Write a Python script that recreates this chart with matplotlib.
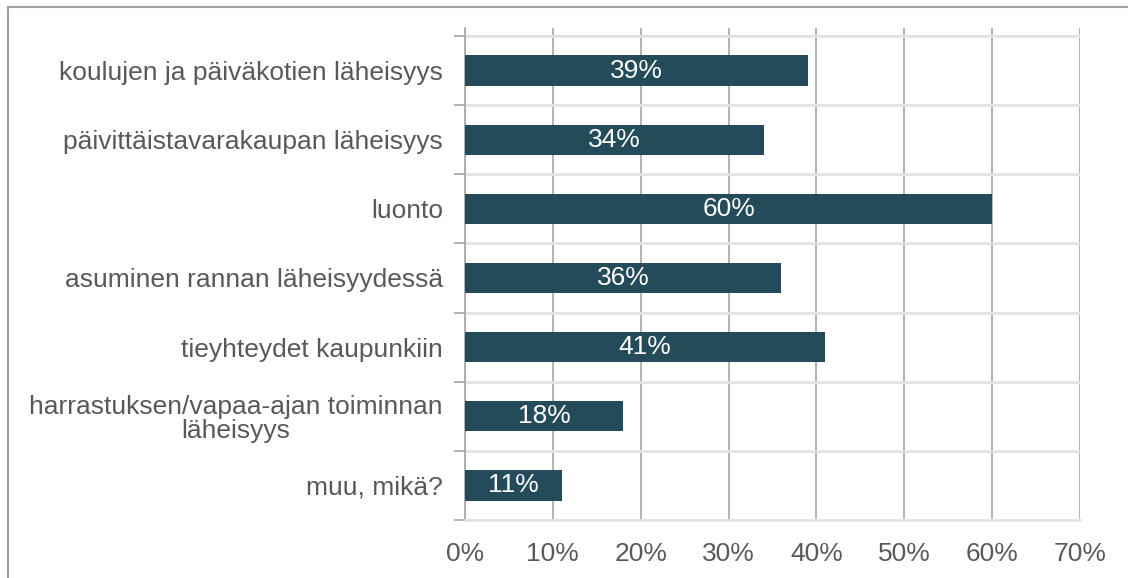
import numpy as np
import matplotlib.pyplot as plt
from matplotlib.lines import Line2D
from matplotlib.ticker import FixedLocator

categories = [
    "koulujen ja päiväkotien läheisyys",
    "päivittäistavarakaupan läheisyys",
    "luonto",
    "asuminen rannan läheisyydessä",
    "tieyhteydet kaupunkiin",
    "harrastuksen/vapaa-ajan toiminnan\nläheisyys",
    "muu, mikä?",
]
values = [39, 34, 60, 36, 41, 18, 11]
xticks = [0, 10, 20, 30, 40, 50, 60, 70]

plt.rcParams['font.family'] = ['Liberation Sans', 'DejaVu Sans']
text_gray = '#595959'
bar_color = '#234B5A'
grid_dark = '#a6a6a6'
grid_light = '#e3e3e3'

fig = plt.figure(figsize=(11.28, 5.78), dpi=100)
# plot area spans y=28..520 px; categories occupy 36..520
ax = fig.add_axes([465/1128, 58/578, 615/1128, 492/578])

n = len(categories)
y = np.arange(n)
bars = ax.barh(y, values, height=0.44, color=bar_color, zorder=3)
for b, v in zip(bars, values):
    ax.text(v / 2, b.get_y() + b.get_height() / 2, f"{v}%", color='white',
            ha='center', va='center', fontsize=19, zorder=4)

step_px = 484 / n
ax.set_xlim(0, 70)
ax.set_ylim(n - 0.5, -0.5 - 8 / step_px)
ax.set_xticks(xticks)
ax.set_xticklabels([f"{t}%" for t in xticks])
ax.set_yticks(y)
ax.set_yticklabels(categories, multialignment='center', linespacing=1.0)
ax.yaxis.set_minor_locator(FixedLocator(np.arange(-0.5, n, 1.0)))

ax.tick_params(axis='x', length=0, pad=16, labelsize=19, labelcolor=text_gray)
ax.tick_params(axis='y', which='major', length=0, pad=16, labelsize=19, labelcolor=text_gray)
ax.tick_params(axis='y', which='minor', length=8, width=1.2, color=grid_dark)

ax.grid(axis='x', color=grid_dark, linewidth=1.2, zorder=0)
ax.grid(axis='y', which='minor', color=grid_light, linewidth=2, zorder=0)
ax.axhline(-0.5, color=grid_dark, linewidth=1.2, zorder=1)

for s in ['right', 'top']:
    ax.spines[s].set_visible(False)
ax.spines['left'].set_color(grid_dark)
ax.spines['left'].set_linewidth(1.2)
ax.spines['bottom'].set_color(grid_light)
ax.spines['bottom'].set_linewidth(2)

# outer frame (only top and left edges visible in the crop)
fig.add_artist(Line2D([8/1128, 1], [1 - 7/578, 1 - 7/578], color='#a0a0a0', lw=1.5,
                      transform=fig.transFigure))
fig.add_artist(Line2D([8/1128, 8/1128], [0, 1 - 7/578], color='#a0a0a0', lw=1.5,
                      transform=fig.transFigure))

fig.savefig('out.png', dpi=100)
